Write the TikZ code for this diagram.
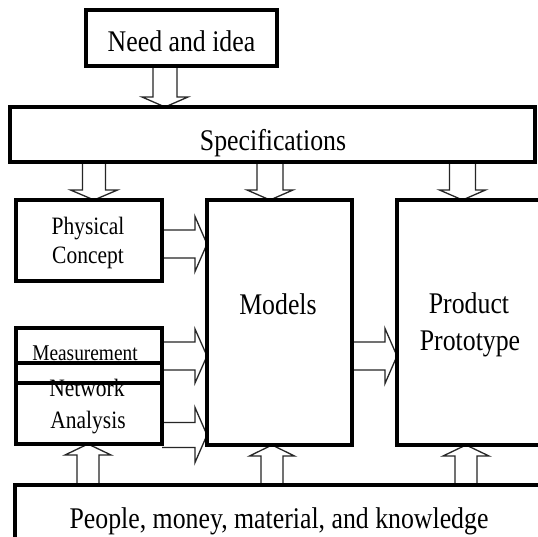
\documentclass[tikz,border=0pt]{standalone}
\usepackage{fontspec}
\setmainfont{Liberation Serif}[FakeStretch=0.86]
\usetikzlibrary{calc,backgrounds}
\tikzset{
  box/.style={draw=black, line width=3.3pt, inner sep=0pt, outer sep=0pt, rectangle},
  blk/.style={draw=black!85, line width=1.3pt, fill=white, line join=miter},
  lbl/.style={anchor=base, inner sep=0pt, outer sep=0pt, font=\fontsize{30}{36}\selectfont},
  lblm/.style={lbl, font=\fontsize{25}{30}\selectfont},
  lbls/.style={lbl, font=\fontsize{22.5}{27}\selectfont},
}
% vertical hollow arrow: #1 start, #2 target anchor, #3 shaft half, #4 head half, #5 signed head length, #6 name
\newcommand\vArrow[6]{%
  \path (#1) coordinate (#6s) (#6s |- #2) coordinate (#6t);
  \draw[blk] let \p1=(#6s), \p2=(#6t) in
    (\x1-#3,\y1) -- (\x1-#3,\y2#5) -- (\x1-#4,\y2#5) -- (\x2,\y2)
    -- (\x1+#4,\y2#5) -- (\x1+#3,\y2#5) -- (\x1+#3,\y1);}
% horizontal hollow arrow
\newcommand\hArrow[6]{%
  \path (#1) coordinate (#6s) (#6s -| #2) coordinate (#6t);
  \draw[blk] let \p1=(#6s), \p2=(#6t) in
    (\x1,\y1+#3) -- (\x2#5,\y1+#3) -- (\x2#5,\y1+#4) -- (\x2,\y2)
    -- (\x2#5,\y1-#4) -- (\x2#5,\y1-#3) -- (\x1,\y1-#3);}
\begin{document}
\begin{tikzpicture}[x=1pt,y=-1pt]
\clip (0,0) rectangle (538,537);
% boxes
\node[box, minimum width=191pt, minimum height=56pt] (need) at (181.5,38) {};
\node[box, minimum width=525pt, minimum height=55pt] (spec) at (272.5,134.5) {};
\node[box, minimum width=146pt, minimum height=81pt] (phys) at (89,240.5) {};
\node[box, minimum width=145pt, minimum height=245pt] (models) at (279.5,322.5) {};
\node[box, minimum width=163pt, minimum height=245pt] (product) at (478.5,322.5) {};
\node[box, minimum width=146pt, minimum height=55pt] (meas) at (89,355.5) {};
\node[box, minimum width=146pt, minimum height=81pt] (netw) at (89,403.5) {};
\node[box, minimum width=545pt, minimum height=95pt] (bottom) at (287.5,532.5) {};
% texts
\node[lbl] (needT) at (181.5,51.5) {Need and idea};
\node[lbl] (specT) at (273,151) {Specifications};
\node[lblm] (physT1) at (88,235) {Physical};
\node[lblm] (physT2) at (88,264) {Concept};
\node[lbls] (measT) at (85,360.5) {Measurement};
\node[lblm] (netwT1) at (87,396) {Network};
\node[lblm] (netwT2) at (88,428) {Analysis};
\node[lbl] (modelsT) at (278,315) {Models};
\node[lbl] (prodT1) at (469,313) {Product};
\node[lbl] (prodT2) at (470,350) {Prototype};
\node[lbl] (bottomT) at (279,528) {People, money, material, and knowledge};
% arrows
\begin{pgfonlayer}{background}
\fill[white] (0,0) rectangle (538,537);
\vArrow{$(need.south)+(-16.5,0)$}{spec.north}{12pt}{23pt}{+10pt}{a1}
\vArrow{$(spec.south)+(-178.5,0)$}{phys.north}{11.5pt}{23.5pt}{+10pt}{a2}
\vArrow{$(spec.south)+(-2.5,0)$}{models.north}{13pt}{23pt}{+10pt}{a3}
\vArrow{$(spec.south)+(190,0)$}{product.north}{13pt}{23pt}{+10pt}{a4}
\hArrow{$(phys.east)+(0,3.5)$}{models.west}{14pt}{27.5pt}{-12pt}{a5}
\hArrow{$(meas.east)+(0,0.5)$}{models.west}{14pt}{27pt}{-12pt}{a6}
\hArrow{$(netw.east)+(0,31.5)$}{models.west}{12.5pt}{27.5pt}{-12pt}{a7}
\hArrow{$(models.east)+(0,33.5)$}{product.west}{14pt}{27.5pt}{-12pt}{a8}
\vArrow{$(bottom.north)+(-199.5,0)$}{netw.south}{11pt}{23pt}{-11pt}{a9}
\vArrow{$(bottom.north)+(-15.5,0)$}{models.south}{11pt}{22.5pt}{-11pt}{a10}
\vArrow{$(bottom.north)+(178.5,0)$}{product.south}{11pt}{23pt}{-11pt}{a11}
\end{pgfonlayer}
\end{tikzpicture}
\end{document}
